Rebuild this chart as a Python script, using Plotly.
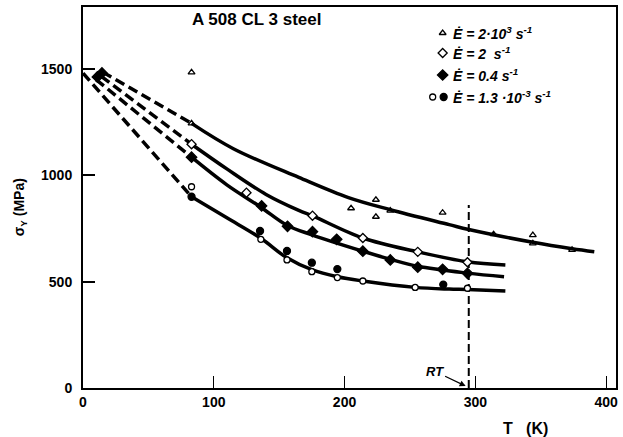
import plotly.graph_objects as go

# ---------------- data ----------------
# measured points (T in K, yield stress in MPa)
tri_T = [83, 83, 205, 224, 224, 235, 275, 314, 344, 344, 374]
tri_S = [1484, 1244, 845, 805, 885, 834, 824, 723, 719, 680, 649]

odia_T = [83, 125, 175.5, 214, 256, 294]
odia_S = [1146, 918, 810, 705, 640, 591]

fdia_T = [11, 14.5, 83, 136.6, 156.4, 175.5, 194, 214, 235, 256, 275, 294]
fdia_S = [1462, 1481, 1085, 856, 760, 735, 699, 643, 602, 568, 558, 539]

ocir_T = [83, 136, 156, 175, 194.5, 214, 254, 294]
ocir_S = [946, 699, 602, 547, 519, 503, 473, 469]

fcir_T = [83, 135.4, 156, 175, 194.5, 275.5]
fcir_S = [899, 738, 644, 589, 559, 486]

# fitted curves (solid)
fitA_T = [83, 115, 165, 203, 235, 280, 295, 344, 374, 391]
fitA_S = [1244, 1125, 990, 895, 838, 768, 745, 685, 655, 641]
fitB_T = [83, 110, 140, 165, 176, 214, 256, 294, 323]
fitB_S = [1146, 1030, 910, 835, 808, 705, 640, 593, 578]
fitC_T = [83, 110, 136, 156, 175, 214, 235, 256, 294, 322]
fitC_S = [1085, 955, 850, 765, 720, 643, 605, 572, 540, 523]
fitD_T = [83, 110, 136, 156, 175, 194.5, 214, 254, 280, 294, 323]
fitD_S = [899, 800, 704, 612, 556, 523, 503, 473, 465, 463, 456]

# dashed extrapolations toward 0 K
extA_T = [15, 83]; extA_S = [1485, 1244]
extB_T = [14, 83]; extB_S = [1465, 1146]
extC_T = [10, 83]; extC_S = [1450, 1085]
extD_T = [0, 83];  extD_S = [1480, 899]

RT_T = [295, 295]; RT_S = [0, 860]

x_ticks = [0, 100, 200, 300, 400]
y_ticks = [0, 500, 1000, 1500]

legend_labels = [
    "Ė = 2·10<sup>3</sup> s<sup>-1</sup>",
    "Ė = 2  s<sup>-1</sup>",
    "Ė = 0.4 s<sup>-1</sup>",
    "Ė = 1.3 ·10<sup>-3</sup> s<sup>-1</sup>",
]

# ---------------- figure ----------------
FONT = "Liberation Sans"
W, H = 623, 437
L, R, T_, B = 83, 5, 7, 49
pw, ph = W - L - R, H - T_ - B

def px(xp):
    return (xp - L) / pw

def py(yp):
    return (H - B - yp) / ph

fig = go.Figure()
LW = 3.5

for T, S in [(fitA_T, fitA_S), (fitB_T, fitB_S), (fitC_T, fitC_S), (fitD_T, fitD_S)]:
    fig.add_trace(go.Scatter(x=T, y=S, mode="lines", line=dict(color="black", width=LW, shape="spline", smoothing=1.0),
                             hoverinfo="skip"))
for T, S in [(extA_T, extA_S), (extB_T, extB_S), (extC_T, extC_S), (extD_T, extD_S)]:
    fig.add_trace(go.Scatter(x=T, y=S, mode="lines", line=dict(color="black", width=LW, dash="10px,5px"),
                             hoverinfo="skip"))
fig.add_trace(go.Scatter(x=RT_T, y=RT_S, mode="lines", line=dict(color="black", width=2, dash="8px,4px"),
                         hoverinfo="skip"))

mk_line = dict(color="black", width=1.3)
sty_tri = dict(symbol="triangle-up-open", size=6, color="black", line=mk_line)
sty_odia = dict(symbol="diamond", size=7, color="white", line=mk_line)
sty_fdia = dict(symbol="diamond", size=8, color="black", line=mk_line)
sty_fcir = dict(symbol="circle", size=7, color="black", line=mk_line)
sty_ocir = dict(symbol="circle", size=6, color="white", line=mk_line)

fig.add_trace(go.Scatter(x=tri_T, y=tri_S, mode="markers", marker=sty_tri))
fig.add_trace(go.Scatter(x=odia_T, y=odia_S, mode="markers", marker=sty_odia))
fig.add_trace(go.Scatter(x=fdia_T, y=fdia_S, mode="markers", marker=sty_fdia))
fig.add_trace(go.Scatter(x=fcir_T, y=fcir_S, mode="markers", marker=sty_fcir))
fig.add_trace(go.Scatter(x=ocir_T, y=ocir_S, mode="markers", marker=sty_ocir))

# legend keys on an overlay axis in paper-like units
leg_rows_y = [py(33), py(53), py(75), py(97)]
key_x = px(444)
fig.add_trace(go.Scatter(x=[key_x], y=[leg_rows_y[0]], xaxis="x2", yaxis="y2", mode="markers", marker=sty_tri))
fig.add_trace(go.Scatter(x=[key_x], y=[leg_rows_y[1]], xaxis="x2", yaxis="y2", mode="markers", marker=sty_odia))
fig.add_trace(go.Scatter(x=[key_x], y=[leg_rows_y[2]], xaxis="x2", yaxis="y2", mode="markers", marker=sty_fdia))
fig.add_trace(go.Scatter(x=[px(434)], y=[leg_rows_y[3]], xaxis="x2", yaxis="y2", mode="markers", marker=sty_ocir))
fig.add_trace(go.Scatter(x=[px(445)], y=[leg_rows_y[3]], xaxis="x2", yaxis="y2", mode="markers", marker=sty_fcir))

ann = []
ann.append(dict(x=px(257), y=py(19), xref="paper", yref="paper", showarrow=False, xanchor="center", yanchor="middle",
                text="<b>A 508 CL 3 steel</b>", font=dict(family=FONT, size=17, color="black")))
ann.append(dict(x=px(20), y=py(207), xref="paper", yref="paper", showarrow=False, textangle=-90,
                xanchor="center", yanchor="middle",
                text="<b>σ<sub>Y</sub> (MPa)</b>", font=dict(family=FONT, size=14, color="black")))
ann.append(dict(x=px(527), y=py(428), xref="paper", yref="paper", showarrow=False, xanchor="center", yanchor="middle",
                text="<b>T   (K)</b>", font=dict(family=FONT, size=16, color="black")))
ann.append(dict(x=292.6, y=9, xref="x", yref="y", ax=-31, ay=-15, showarrow=True, arrowhead=2,
                arrowsize=1, arrowwidth=1.2, arrowcolor="black",
                text="<b><i>RT</i></b>", font=dict(family=FONT, size=13, color="black")))
for yy, txt in zip(leg_rows_y, legend_labels):
    ann.append(dict(x=px(452), y=yy, xref="paper", yref="paper", showarrow=False, xanchor="left", yanchor="middle",
                    text="<b><i>" + txt + "</i></b>", font=dict(family=FONT, size=14, color="black")))

fig.update_layout(
    width=W, height=H, margin=dict(l=L, r=R, t=T_, b=B),
    paper_bgcolor="white", plot_bgcolor="white", showlegend=False,
    annotations=ann,
    xaxis=dict(range=[0, 407.6], tickvals=x_ticks, ticktext=[str(v) for v in x_ticks],
               ticks="inside", ticklen=12, tickwidth=1.2, tickcolor="black",
               showline=True, linecolor="black", linewidth=2, mirror=True, showgrid=False, zeroline=False,
               tickfont=dict(family=FONT, size=14, color="black", weight="bold")),
    yaxis=dict(range=[0, 1791], tickvals=y_ticks, ticktext=[str(v) for v in y_ticks],
               ticks="inside", ticklen=12, tickwidth=1.5, tickcolor="black", ticklabelstandoff=6,
               showline=True, linecolor="black", linewidth=2, mirror=True, showgrid=False, zeroline=False,
               tickfont=dict(family=FONT, size=14, color="black", weight="bold")),
    xaxis2=dict(overlaying="x", range=[0, 1], visible=False, fixedrange=True),
    yaxis2=dict(overlaying="y", range=[0, 1], visible=False, fixedrange=True),
)

fig.write_html("out.html", config={"displayModeBar": False},
               post_script="document.body.style.margin='0px';")
